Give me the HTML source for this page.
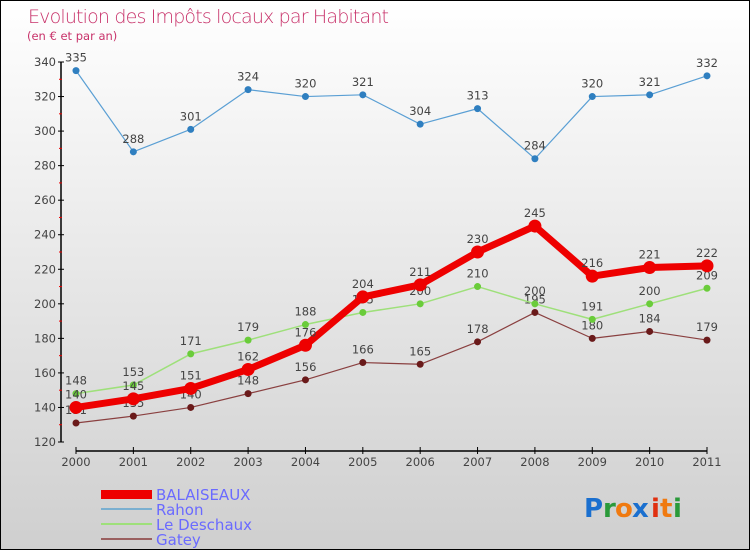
<!DOCTYPE html>
<html><head><meta charset="utf-8"><style>
body{margin:0;}
#c{width:748px;height:548px;border:1px solid #000;background:linear-gradient(#ffffff,#cfcfcf);position:relative;font-family:"DejaVu Sans","Liberation Sans",sans-serif;overflow:hidden}
text{font-family:"DejaVu Sans","Liberation Sans",sans-serif}
</style></head><body>
<div id="c">
<svg id="s" width="748" height="548">
<text x="27" y="22" font-size="19" fill="#c8326a" style="font-weight:200" textLength="361">Evolution des Impôts locaux par Habitant</text>
<text x="26" y="39" font-size="11.5" fill="#c8326a">(en € et par an)</text>
<g id="axes"></g><g id="series"></g>
<g>
<rect x="100" y="489" width="51" height="9" fill="#e00"/>
<text x="155" y="499" font-size="15" fill="#6a6aff">BALAISEAUX</text>
<rect x="100" y="507" width="51" height="2" fill="#7aafd0"/>
<text x="155" y="514" font-size="15" fill="#6a6aff">Rahon</text>
<rect x="100" y="522" width="51" height="2" fill="#9ee07a"/>
<text x="155" y="529" font-size="15" fill="#6a6aff">Le Deschaux</text>
<rect x="100" y="537" width="51" height="2" fill="#9a6060"/>
<text x="155" y="544" font-size="15" fill="#6a6aff">Gatey</text>
</g>
<g font-size="26" font-weight="bold">
<text x="583" y="516" fill="#1a6fcf">P</text><text x="602" y="516" fill="#2a9a3a">r</text><text x="614" y="516" fill="#f07a10">o</text><text x="631" y="516" fill="#1a6fcf">x</text><text x="650" y="516" fill="#e03010">i</text><text x="659" y="516" fill="#f07a10">t</text><text x="672" y="516" fill="#2a9a3a">i</text>
</g>
</svg></div>
<script>
const years=["2000","2001","2002","2003","2004","2005","2006","2007","2008","2009","2010","2011"];
const balaiseaux=[140,145,151,162,176,204,211,230,245,216,221,222];
const rahon=[335,288,301,324,320,321,304,313,284,320,321,332];
const deschaux=[148,153,171,179,188,195,200,210,200,191,200,209];
const gatey=[131,135,140,148,156,166,165,178,195,180,184,179];
const yTicks=[120,140,160,180,200,220,240,260,280,300,320,340];
const NS="http://www.w3.org/2000/svg";
const X=i=>75+i*(706-75)/(years.length-1);
const Y=v=>441-(v-120)*(380/220);
function mk(t,a,p){const e=document.createElementNS(NS,t);for(const k in a)e.setAttribute(k,a[k]);p.appendChild(e);return e;}
const ax=document.getElementById('axes');
let l=mk('line',{x1:60,y1:Y(340),x2:60,y2:Y(120),stroke:'#000','stroke-width':1.5},ax);


yTicks.forEach((v,i)=>{
 let t=mk('line',{x1:57,x2:63,y1:Y(v),y2:Y(v),stroke:'#000'},ax);
 
 
 let tx=mk('text',{x:55,y:Y(v)+4,'font-size':11.5,'text-anchor':'end',fill:'#444'},ax);tx.textContent=v;
 
 
 if(i<yTicks.length-1){let m=mk('line',{x1:58,x2:61,y1:Y(v+10),y2:Y(v+10),stroke:'#e00'},ax);
 
 }
});
l=mk('line',{x1:X(0),y1:450,x2:X(years.length-1),y2:450,stroke:'#000','stroke-width':1.5},ax);


years.forEach((y,i)=>{
 let t=mk('line',{x1:X(i),x2:X(i),y1:446,y2:453,stroke:'#000'},ax);
 
 
 let tx=mk('text',{x:X(i),y:465,'font-size':11.5,'text-anchor':'middle',fill:'#444'},ax);tx.textContent=y;
 
 
});
const sg=document.getElementById('series');
function draw(name,vals,color,w,r,dot){
 const g=mk('g',{},sg);
 
 
 const p=mk('polyline',{points:vals.map((v,i)=>X(i)+','+Y(v)).join(' '),fill:'none',stroke:color,'stroke-width':w,'stroke-linejoin':'round'},g);
 
 
 vals.forEach((v,i)=>{
  const c=mk('circle',{cx:X(i),cy:Y(v),r:r,fill:dot},g);
  
  
  const t=mk('text',{x:X(i),y:Y(v)-9,'font-size':11.5,'text-anchor':'middle',fill:'#444'},g);t.textContent=v;
  
  
 });
}
draw('rahon',rahon,'#5a9fd4',1.2,3.5,'#2f7fc0');
draw('gatey',gatey,'#8a4040',1.2,3.5,'#6a1a1a');
draw('le-deschaux',deschaux,'#9ee07a',1.5,3.5,'#6acc3a');
draw('balaiseaux',balaiseaux,'#ee0000',7,6.5,'#ee0000');
</script>
</body></html>
